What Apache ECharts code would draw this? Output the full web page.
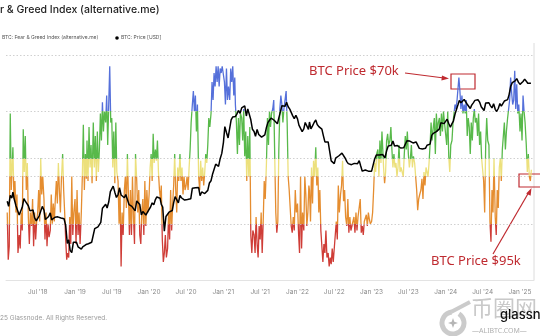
<!DOCTYPE html>
<html><head><meta charset="utf-8">
<script src="https://cdn.jsdelivr.net/npm/echarts@6/dist/echarts.min.js"></script>
<style>html,body{margin:0;padding:0;background:#fff;overflow:hidden}#c{width:540px;height:336px}</style>
</head><body><div id="c"></div>
<script>
// ---- data ----
const startYear = 2018, startMonth = 2;           // first sampled month (Feb 2018)
const fgDays = [1, 6, 11, 16, 21, 26];             // Fear & Greed samples per month
const priceDays = [1, 8, 16, 24];                  // price samples per month
const fearGreed = [
  // 2018 Feb..Dec
  30,9,15,74,40,52, 59,36,44,30,38,12, 20,14,30,22,67,48, 64,40,52,28,16,30, 24,36,15,30,18,26, 30,40,26,54,38,46,
  36,18,30,15,25,19, 22,38,25,34,26,36, 44,34,52,40,30,45, 56,40,30,18,9,12, 10,28,16,46,20,30,
  // 2019
  36,16,40,20,30,16, 30,46,69,40,56,45, 62,44,68,50,60,43, 70,50,64,44,66,48, 58,74,62,79,66,75, 70,82,60,78,95,70,
  72,50,66,43,70,48, 44,25,40,6,30,20, 40,46,32,56,38,20, 40,20,46,28,16,56, 44,30,40,20,16,30, 36,20,44,24,40,30,
  // 2020
  38,50,56,44,65,52, 58,53,62,48,40,36, 42,18,8,12,20,10, 14,30,18,40,22,34, 42,56,40,30,50,44, 56,44,50,38,46,40,
  42,46,40,50,58,70, 78,84,75,82,66,78, 46,40,53,44,50,42, 48,56,52,60,72,68, 74,88,80,92,86,95, 88,95,86,94,92,95,
  // 2021
  95,88,78,94,80,86, 80,94,88,95,82,90, 78,70,56,72,60,74, 72,62,76,55,66,44, 64,46,68,20,12,22, 20,12,28,16,10,24,
  18,30,12,26,44,36, 52,72,60,75,68,74, 76,80,54,30,21,26, 58,76,82,78,70,76, 76,84,70,46,40,32, 24,21,28,22,40,30,
  // 2022
  34,21,12,46,14,30, 22,46,38,24,30,42, 40,26,50,34,53,46, 59,42,50,30,40,22, 22,8,16,12,22,10, 12,6,10,7,14,8,
  14,20,26,18,42,30, 38,42,53,35,40,28, 24,36,21,28,22,24, 24,28,21,30,22,28, 28,36,21,24,20,26, 26,29,24,30,27,25,
  // 2023
  26,30,40,52,48,56, 58,46,62,52,66,56, 50,43,48,62,65,60, 62,68,58,50,56,50, 52,46,50,60,48,50, 50,46,56,64,58,66,
  56,50,54,60,50,55, 52,46,40,31,36,38, 40,45,36,48,42,50, 50,46,52,60,70,62, 68,72,56,74,66,70, 72,64,74,66,75,70,
  // 2024
  70,60,75,55,48,60, 62,70,74,78,76,80, 80,90,84,76,82,74, 78,74,80,64,72,68, 56,70,62,72,76,70, 72,64,74,60,66,54,
  54,44,30,60,72,62, 60,26,17,40,30,54, 28,20,40,32,50,54, 44,58,64,70,58,66, 72,76,80,90,83,78, 80,93,76,87,74,78,
  // 2025 Jan..Feb
  66,74,62,82,75,70, 60,48,56,46,44,49
];
const btcPrice = [
  9100,8200,10200,9700, 10900,9400,8300,8600, 6900,7000,8050,9600, 9100,9200,8300,7500, 7500,7650,6500,6150, 6350,6750,6700,8200, 7600,6300,6300,6700, 7200,6250,6500,6600, 6600,6650,6500,6500, 6350,6400,5600,3900, 4200,3400,3250,4000,
  3850,4000,3650,3580, 3480,3650,3650,3820, 3830,3880,4000,4000, 4150,5250,5200,5450, 5350,5950,7900,8000, 8550,7950,8950,11000, 10600,12300,10900,9800, 10400,11900,10300,10100, 9750,10400,10250,8500, 8300,8200,8000,7500, 9150,8800,8500,6900, 7400,7500,6900,7300,
  7200,8100,8800,8450, 9400,9900,10100,9650, 8550,8100,5000,6700, 6600,7300,7100,7550, 8850,9950,9400,8800, 10200,9750,9500,9300, 9200,9400,9150,9550, 11800,11650,11900,11750, 11950,10150,10950,10750, 10600,10900,11300,13100, 13700,15500,15900,19100, 18800,18300,21300,23700,
  29400,40500,36000,32300, 33500,46400,49200,49700, 49600,52000,56000,52800, 58900,58000,61400,50100, 57800,58800,46400,38400, 36700,33400,38300,34600, 33500,32800,31800,34300, 39900,43800,46000,48000, 48800,46000,47700,42800, 48200,53900,61500,60900, 61000,66000,60300,57500, 57200,50500,47600,50800,
  47300,41700,43100,36700, 38700,44000,44600,38300, 44400,38700,41100,44000, 46300,42300,40500,39500, 38500,34000,29800,29100, 29800,30300,20400,21200, 19300,21600,21200,22600, 23300,23800,24000,21500, 20100,19300,19700,18900, 19300,19400,19200,19300, 20500,18500,16600,16600, 17000,16800,16600,16800,
  16600,17000,21200,22900, 23700,22900,23800,23200, 23600,21700,25000,27500, 28450,27900,30300,27500, 27800,27700,27000,26400, 26900,26500,26300,30500, 30600,30300,30300,29200, 29700,29800,28700,26200, 25900,25900,26600,26300, 27900,27900,28500,34000, 35400,35600,36600,37700, 38700,43700,42300,43000,
  44200,47000,43100,40000, 43000,45300,52100,51700, 62400,68300,65300,67200, 69700,71600,63400,64300, 58200,62300,65200,68500, 67700,69300,66200,60300, 62700,55900,65000,65800, 65300,61700,58900,64100, 57300,54800,58200,64200, 61000,62200,67600,68200, 69500,76500,90600,97700, 97200,101200,106000,98700,
  94400,95000,100000,104800, 100600,96500,96100,96400
];
const tickDates = ['2018-07-01','2019-01-01','2019-07-01','2020-01-01','2020-07-01','2021-01-01','2021-07-01','2022-01-01','2022-07-01','2023-01-01','2023-07-01','2024-01-01','2024-07-01','2025-01-01'];
const tickLabels = ["Jul '18","Jan '19","Jul '19","Jan '20","Jul '20","Jan '21","Jul '21","Jan '22","Jul '22","Jan '23","Jul '23","Jan '24","Jul '24","Jan '25"];
const bandLevels = [25, 46, 54, 75, 100];   // sentiment band boundaries
// ---------------

const dateOf = (days, i) => Date.UTC(startYear, startMonth - 1 + Math.floor(i / days.length), days[i % days.length]);
const tickTimes = tickDates.map(d => Date.parse(d + 'T00:00:00Z'));
const labelOf = {}; tickTimes.forEach((t, i) => labelOf[t] = tickLabels[i]);

const C = { red:'#cf3d37', orange:'#e58d30', yellow:'#ece07c', green:'#58b94a', blue:'#5570da' };
const red = '#bf2a30';

const chart = echarts.init(document.getElementById('c'), null, { renderer: 'canvas' });
chart.setOption({
  animation: false,
  backgroundColor: '#fff',
  grid: { left: 6, right: 6, top: 55, bottom: 56 },
  xAxis: {
    type: 'value',
    min: Date.UTC(2018, 0, 26), max: Date.UTC(2025, 2, 11),
    axisLine: { show: true, lineStyle: { color: '#e3e3e3', width: 1 } },
    axisTick: { show: false },
    splitLine: { show: false },
    axisLabel: {
      customValues: tickTimes,
      formatter: v => labelOf[v] || '',
      color: '#8a8a8a', fontSize: 6.5, margin: 9, fontFamily: 'Inter'
    }
  },
  yAxis: [
    { type: 'value', min: 0, max: 100, show: false, splitLine: { show: false } },
    { type: 'log', logBase: 10, min: 1878, max: 169900, show: false, splitLine: { show: false } }
  ],
  visualMap: {
    show: false, type: 'piecewise', seriesIndex: 0, dimension: 1,
    pieces: [
      { lt: bandLevels[0], color: C.red },
      { gte: bandLevels[0], lt: bandLevels[1], color: C.orange },
      { gte: bandLevels[1], lt: bandLevels[2], color: C.yellow },
      { gte: bandLevels[2], lt: bandLevels[3], color: C.green },
      { gte: bandLevels[3], color: C.blue }
    ]
  },
  series: [
    {
      name: 'BTC: Fear & Greed Index (alternative.me)', type: 'line', yAxisIndex: 0,
      data: fearGreed.map((v, i) => [dateOf(fgDays, i), v]),
      showSymbol: false, lineStyle: { width: 1.3 }, z: 2,
      markLine: {
        silent: true, symbol: 'none', label: { show: false },
        lineStyle: { type: [1.5, 2], color: '#c4c4c4', width: 0.8 },
        data: bandLevels.map(v => ({ yAxis: v }))
      }
    },
    {
      name: 'BTC: Price [USD]', type: 'line', yAxisIndex: 1,
      data: btcPrice.map((v, i) => [dateOf(priceDays, i), v]),
      showSymbol: false, lineStyle: { width: 1.5, color: '#000' }, itemStyle: { color: '#000' }, z: 5
    }
  ],
  graphic: [
    { type: 'text', left: 0, top: 4, style: { text: 'r & Greed Index (alternative.me)', font: '500 10.5px Inter', fill: '#222' } },
    { type: 'text', left: 2, top: 35, style: { text: 'BTC: Fear & Greed Index (alternative.me)', font: '5px Inter', fill: '#555' } },
    { type: 'circle', shape: { cx: 117, cy: 38, r: 1.8 }, style: { fill: '#000' } },
    { type: 'text', left: 121, top: 35, style: { text: 'BTC: Price [USD]', font: '5px Inter', fill: '#555' } },
    { type: 'line', shape: { x1: 534, y1: 43, x2: 534, y2: 280 }, style: { stroke: '#dcdcdc', lineWidth: 1 } },
    // annotations
    { type: 'text', left: 309, top: 65, style: { text: 'BTC Price $70k', font: '13px "Noto Sans"', fill: red } },
    { type: 'line', shape: { x1: 405, y1: 73, x2: 444, y2: 78 }, style: { stroke: red, lineWidth: 1.2 } },
    { type: 'polygon', shape: { points: [[449, 78.6], [442, 75.4], [441.4, 80.4]] }, style: { fill: red } },
    { type: 'rect', shape: { x: 451, y: 74, width: 24, height: 15 }, style: { fill: 'none', stroke: red, lineWidth: 1.2 } },
    { type: 'text', left: 431, top: 255, style: { text: 'BTC Price $95k', font: '13px "Noto Sans"', fill: red } },
    { type: 'line', shape: { x1: 493, y1: 254, x2: 529, y2: 192 }, style: { stroke: red, lineWidth: 1.2 } },
    { type: 'polygon', shape: { points: [[531.5, 188], [526.2, 193.5], [530.6, 195.8]] }, style: { fill: red } },
    { type: 'rect', shape: { x: 519, y: 174, width: 24, height: 13 }, style: { fill: 'none', stroke: red, lineWidth: 1.2 } },
    // footer
    { type: 'text', left: 0, top: 315, style: { text: '25 Glassnode. All Rights Reserved.', font: '6.5px Inter', fill: '#9a9a9a' } },
    // watermark
    { type: 'arc', shape: { cx: 453, cy: 323, r: 11, startAngle: -1.0, endAngle: 4.6 }, style: { stroke: '#cbcbcb', lineWidth: 5, fill: 'none' } },
    { type: 'line', shape: { x1: 451, y1: 312, x2: 470, y2: 302 }, style: { stroke: '#cbcbcb', lineWidth: 4 } },
    { type: 'polygon', shape: { points: [[453, 318], [454.3, 321.7], [458, 323], [454.3, 324.3], [453, 328], [451.7, 324.3], [448, 323], [451.7, 321.7]] }, style: { fill: '#b5b5b5' } },
    { type: 'text', left: 471, top: 297, style: { text: '币圈网', font: '22px "Noto Sans CJK SC"', fill: '#c9c9c9' } },
    { type: 'text', left: 472, top: 327, style: { text: '—ALIBTC.COM—', font: '7px "Noto Sans"', fill: '#b0b0b0' } },
    { type: 'text', left: 500, top: 309, style: { text: 'glassn', font: '500 13px Inter', fill: '#111' } }
  ]
});
</script></body></html>
